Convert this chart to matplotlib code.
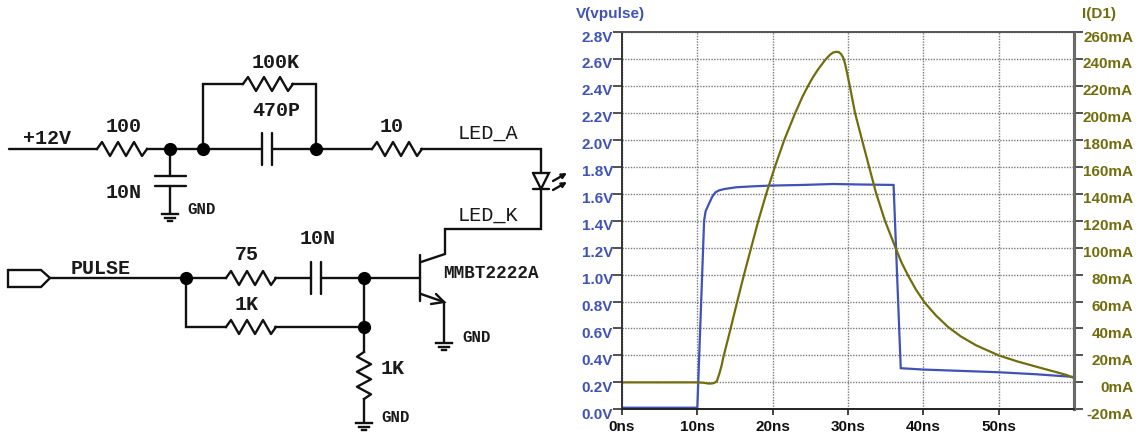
# plot.py
# Esquema del driver de LED + simulación V(vpulse) / I(D1)

import matplotlib
matplotlib.use("Agg")
import matplotlib.pyplot as plt
from matplotlib.ticker import FixedLocator
from matplotlib.transforms import ScaledTranslation

# ---- datos de la simulación ----
v_time = [0, 10.0, 10.9, 11.1, 11.5, 12.0, 12.4, 12.9, 13.6, 15.2, 17.5, 19.6, 24, 28, 32, 36.05, 37.0, 40, 45, 50, 55, 60]
v_pulse = [0.012, 0.012, 1.40, 1.47, 1.52, 1.58, 1.61, 1.625, 1.635, 1.648, 1.655, 1.66, 1.665, 1.672, 1.668, 1.665, 0.305, 0.295, 0.285, 0.275, 0.26, 0.24]

i_time = [0, 5, 10, 10.8, 11.5, 12.0, 12.3, 12.6, 12.9, 13.2, 13.45, 14.4, 15.3, 16.2, 17.15, 18.1, 19.15, 20.3, 21.55, 23.0,
          24.0, 24.7, 25.3, 26.0, 27.0, 27.6, 28.0, 28.4, 28.8, 29.1, 29.4, 29.65, 29.9, 30.27, 30.93, 31.95, 32.8, 33.7, 34.9,
          36.3, 37.1, 38.0, 39.0, 40.2, 41.7, 43.3, 45.0, 47.0, 50, 52.5, 55, 57.7, 59, 60]
i_d1 = [0, 0, 0, -0.3, -0.9, -0.8, -0.3, 1, 6, 12, 18.5, 39.5, 60, 80, 100, 120, 140, 160, 180, 200,
        212.5, 220, 226, 232, 239.5, 243, 244.7, 245.3, 245, 243.5, 240.5, 235.5, 229, 219, 200, 178, 160, 141, 120,
        100, 89, 79, 69, 59, 49.5, 41, 34, 27.5, 20, 15.5, 11.6, 7.5, 5.5, 3.2]

v_ticks = [0.0, 0.2, 0.4, 0.6, 0.8, 1.0, 1.2, 1.4, 1.6, 1.8, 2.0, 2.2, 2.4, 2.6, 2.8]
i_ticks = [-20, 0, 20, 40, 60, 80, 100, 120, 140, 160, 180, 200, 220, 240, 260]
t_ticks = [0, 10, 20, 30, 40, 50]
t_labels = ["0ns", "10ns", "20ns", "30ns", "40ns", "50ns"]

# ---- esquema (en píxeles de la imagen) ----
wires = [
    [(9, 149), (97, 149)],
    [(147, 149), (262, 149)],
    [(272, 149), (372, 149)],
    [(421, 149), (541, 149), (541, 173)],
    [(203, 149), (203, 84), (243, 84)],
    [(292, 84), (316, 84), (316, 149)],
    [(170, 149), (170, 176)],
    [(170, 186), (170, 213)],
    [(541, 189), (541, 229), (445, 229), (445, 254), (421, 262)],
    [(50, 278), (226, 278)],
    [(275, 278), (311, 278)],
    [(321, 278), (420, 278)],
    [(186, 278), (186, 327), (226, 327)],
    [(275, 327), (364, 327)],
    [(364, 278), (364, 352)],
    [(364, 399), (364, 422)],
    [(421, 294), (444, 302), (444, 342)],
    [(8, 270), (41, 270), (50, 278), (41, 287), (8, 287), (8, 270)],
    [(262, 133), (262, 165)],
    [(272, 133), (272, 165)],
    [(155, 176), (186, 176)],
    [(155, 186), (186, 186)],
    [(311, 262), (311, 294)],
    [(321, 262), (321, 294)],
    [(420, 255), (420, 301)],
    [(533, 173), (549, 173), (541, 189), (533, 173)],
    [(533, 189), (549, 189)],
    [(431, 304), (444, 302), (436, 294)],
]
led_arrows = [((553, 181), (567, 173)), ((553, 190), (567, 182))]
resistors_h = [(97, 149), (243, 84), (372, 149), (226, 278), (226, 327)]
resistors_v = [(364, 352)]
junctions = [(170, 149), (203, 149), (316, 149), (186, 278), (364, 278), (364, 327)]
grounds = [(170, 213), (444, 342), (364, 422)]
# texto, x, y, tamaño, negrita
labels = [
    ("+12V", 47, 139, 14.4, "bold"),
    ("100", 124, 126, 14.4, "bold"),
    ("10N", 124, 192, 14.4, "bold"),
    ("GND", 202, 209, 11.3, "bold"),
    ("100K", 276, 62, 14.4, "bold"),
    ("470P", 276, 110, 14.4, "bold"),
    ("10", 392, 126, 14.4, "bold"),
    ("LED_A", 488, 133, 14.6, "normal"),
    ("LED_K", 488, 215, 14.6, "normal"),
    ("MMBT2222A", 491, 273, 12.7, "bold"),
    ("10N", 318, 239, 14.4, "bold"),
    ("PULSE", 101, 268, 14.4, "bold"),
    ("75", 247, 255, 14.4, "bold"),
    ("1K", 247, 304, 14.4, "bold"),
    ("1K", 393, 368, 14.4, "bold"),
    ("GND", 477, 338, 11.3, "bold"),
    ("GND", 396, 418, 11.3, "bold"),
]

W, H = 1141, 434
BLUE = "#3f52b8"
OLIVE = "#726d0c"
WIRE = "#111111"
ZIG = [(0, 0), (5, -7), (13, 7), (21, -7), (29, 7), (37, -7), (45, 7), (50, 0)]


def draw_schematic(ax):
    for pts in wires:
        ax.plot(*zip(*pts), color=WIRE, lw=1.7, solid_joinstyle="miter", solid_capstyle="round")
    for x0, y0 in resistors_h:
        ax.plot([x0 + dx for dx, _ in ZIG], [y0 + dy for _, dy in ZIG], color=WIRE, lw=1.7)
    for x0, y0 in resistors_v:
        ax.plot([x0 + dy for _, dy in ZIG], [y0 + dx * 0.94 for dx, _ in ZIG], color=WIRE, lw=1.7)
    for start, end in led_arrows:
        ax.annotate("", xy=end, xytext=start, arrowprops=dict(arrowstyle="-|>", color=WIRE, lw=1.7,
                                                              mutation_scale=7, shrinkA=0, shrinkB=0))
    for x, y in junctions:
        ax.plot(x, y, "o", color="black", ms=8.5)
    for x, y in grounds:
        for off, half in [(1, 8), (4.5, 5), (8, 2)]:
            ax.plot([x - half, x + half], [y + off, y + off], color=WIRE, lw=1.7)
    for txt, x, y, size, weight in labels:
        ax.text(x, y, txt, family="Liberation Mono", fontsize=size, fontweight=weight,
                ha="center", va="center", color="#1a1a1a")


def main():
    fig = plt.figure(figsize=(W / 100, H / 100), dpi=100)

    sch = fig.add_axes([0, 0, 1, 1])
    sch.set_xlim(0, W)
    sch.set_ylim(H, 0)
    sch.axis("off")
    draw_schematic(sch)

    left, right, top, bottom = 622, 1074, 32, 409.3
    ax = fig.add_axes([left / W, 1 - bottom / H, (right - left) / W, (bottom - top) / H])
    ax.patch.set_alpha(0)
    ax2 = ax.twinx()

    ax.plot(v_time, v_pulse, color=BLUE, lw=1.6, solid_joinstyle="miter")
    ax2.plot(i_time, i_d1, color=OLIVE, lw=1.6)

    ax.set_xlim(0, 60)
    ax.set_ylim(0, 2.8)
    ax2.set_ylim(-20, 260)
    ax.xaxis.set_major_locator(FixedLocator(t_ticks))
    ax.set_xticklabels(t_labels)
    ax.set_yticks(v_ticks)
    ax.set_yticklabels([f"{v:.1f}V" for v in v_ticks])
    ax2.set_yticks(i_ticks)
    ax2.set_yticklabels([f"{v}mA" for v in i_ticks])

    ax.grid(True, color="#7a7a7a", lw=1.0, linestyle=(0, (1, 1)))
    ax.set_axisbelow(True)

    ax.tick_params(axis="x", length=4.5, width=1.2, pad=3, color="#222222")
    ax.tick_params(axis="y", length=6.5, width=1.2, pad=0, color="#333333")
    ax2.tick_params(axis="y", length=6.5, width=1.2, pad=36, color="#333333")

    shift = ScaledTranslation(0, -4 / 100, fig.dpi_scale_trans)
    for lab in ax.get_xticklabels():
        lab.set_fontproperties({"family": "Liberation Sans", "weight": "bold", "size": 11})
        lab.set_color("#111111")
    for lab in ax.get_yticklabels():
        lab.set_fontproperties({"family": "Liberation Sans", "weight": "bold", "size": 11})
        lab.set_color(BLUE)
        lab.set_transform(lab.get_transform() + shift)
    for lab in ax2.get_yticklabels():
        lab.set_fontproperties({"family": "Liberation Sans", "weight": "bold", "size": 11})
        lab.set_color(OLIVE)
        lab.set_ha("right")
        lab.set_transform(lab.get_transform() + shift)

    for a in (ax, ax2):
        a.spines["left"].set_color("#333333")
        a.spines["left"].set_linewidth(1.2)
        a.spines["top"].set_color("#555555")
        a.spines["top"].set_linewidth(1.2)
        a.spines["bottom"].set_color("#222222")
        a.spines["bottom"].set_linewidth(1.2)
        a.spines["right"].set_color("#6a6a6a")
        a.spines["right"].set_linewidth(2.2)

    sch.text(576, 14, "V(vpulse)", family="Liberation Sans", fontweight="bold", fontsize=11,
             color=BLUE, ha="left", va="center")
    sch.text(1082, 14, "I(D1)", family="Liberation Sans", fontweight="bold", fontsize=11,
             color=OLIVE, ha="left", va="center")

    fig.savefig("out.png", dpi=100)
    plt.close(fig)


if __name__ == "__main__":
    main()
